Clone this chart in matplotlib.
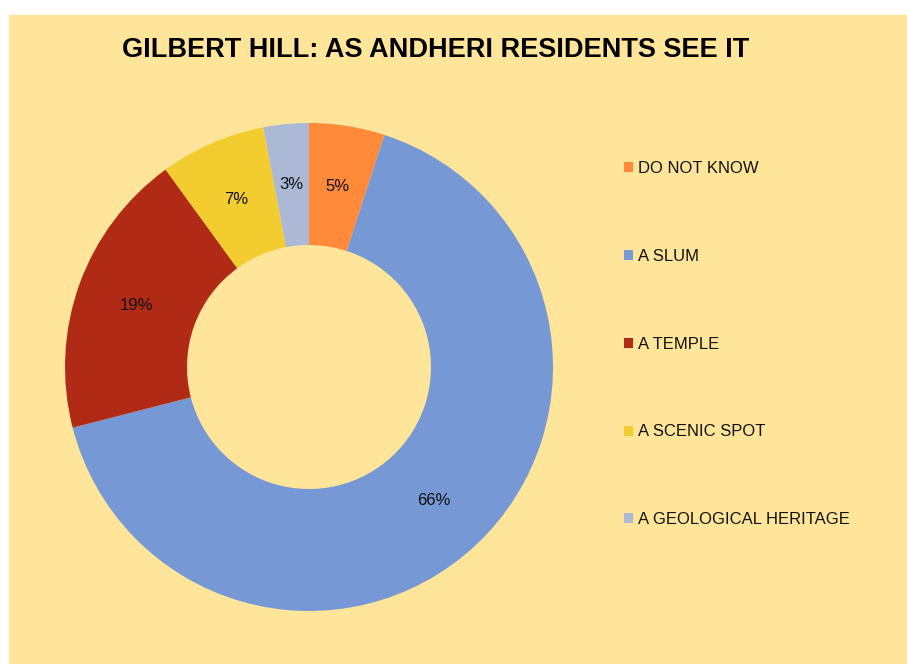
import matplotlib
matplotlib.use("Agg")
import matplotlib.pyplot as plt
from matplotlib.patches import Rectangle

categories = ["DO NOT KNOW", "A SLUM", "A TEMPLE", "A SCENIC SPOT", "A GEOLOGICAL HERITAGE"]
shares = [5, 66, 19, 7, 3]
colors = ["#FF8A3A", "#7699D6", "#B02A16", "#F3CC30", "#ACB9D6"]
title = "GILBERT HILL: AS ANDHERI RESIDENTS SEE IT"

BG = "#FFE599"
W, H = 907, 664

fig = plt.figure(figsize=(W / 100, H / 100), dpi=100, facecolor="white")
fig.patches.append(Rectangle((9 / W, 0), 1 - 9 / W, 1 - 15 / H,
                             transform=fig.transFigure, color=BG, zorder=-5))

fig.text(436 / W, 1 - 50 / H, title, ha="center", va="center",
         fontsize=19.5, fontweight="bold", family="Liberation Sans")

# donut
cx, cy, r = 309, 367, 244
ax = fig.add_axes([(cx - r) / W, (H - cy - r) / H, 2 * r / W, 2 * r / H])
ax.set_facecolor("none")
ax.set_zorder(2)
wedges, texts = ax.pie(shares, colors=colors, startangle=90, counterclock=False,
                       radius=1, wedgeprops=dict(width=0.5, linewidth=0),
                       labels=[f"{v}%" for v in shares], labeldistance=0.75,
                       textprops=dict(fontsize=12, family="Liberation Sans",
                                      color="#111111", ha="center", va="center"))
ax.set_xlim(-1, 1)
ax.set_ylim(-1, 1)
ax.set_aspect("equal")

leg = fig.legend(wedges, categories, loc="upper left",
                 bbox_to_anchor=(609 / W, 1 - 146 / H), frameon=False,
                 prop=dict(family="Liberation Sans", size=12),
                 handlelength=0.55, handleheight=0.55, handletextpad=0.3,
                 labelspacing=4.37, labelcolor="#111111")

fig.savefig("out.png", dpi=100, facecolor="white")
